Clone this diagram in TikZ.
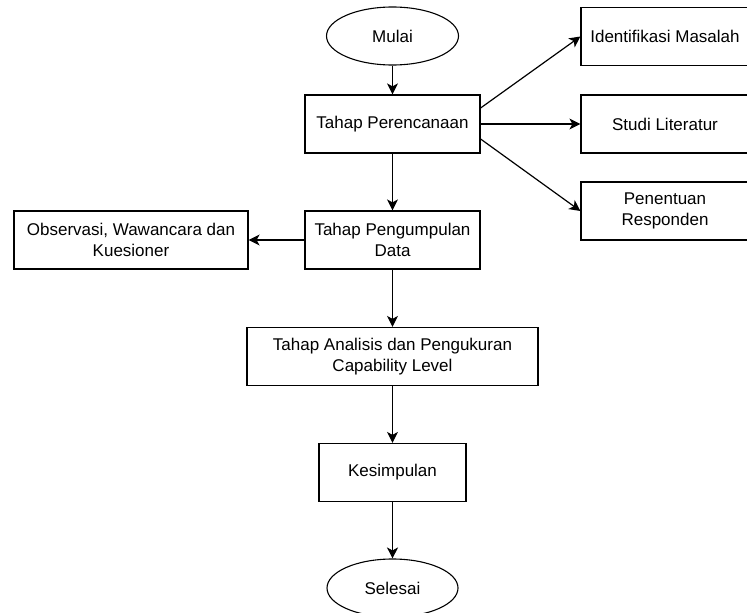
\documentclass[tikz,border=0pt]{standalone}
\usepackage{fontspec}
\setmainfont{Liberation Sans}
\usetikzlibrary{shapes.geometric,arrows.meta}
\tikzset{
  kotak/.style={draw, line width=1.2pt, minimum height=58pt, align=center, font=\fontsize{17}{20.5}\selectfont},
  oval/.style={ellipse, draw, line width=1.1pt, minimum width=132pt, minimum height=58pt, inner sep=0pt, font=\fontsize{17}{20.5}\selectfont},
}
\begin{document}
\begin{tikzpicture}[x=1pt, y=-1pt, >={Stealth[length=11pt,width=11pt,inset=3pt]}]
		\useasboundingbox (0,0) rectangle (747,613);
		\node[oval] (mulai) at (392.5,36) {Mulai};
		\node[kotak, minimum width=175pt] (rencana) at (392.5,124) {Tahap Perencanaan};
		\node[kotak, minimum width=168pt] (identifikasi) at (665,36.5) {Identifikasi Masalah};
		\node[kotak, minimum width=168pt] (studi) at (665,124) {Studi Literatur};
		\node[kotak, minimum width=168pt] (responden) at (665,211) {Penentuan\\Responden};
		\node[kotak, minimum width=175pt] (kumpul) at (392.5,240) {Tahap Pengumpulan\\Data};
		\node[kotak, minimum width=234pt] (observasi) at (131,240) {Observasi, Wawancara dan\\Kuesioner};
		\node[kotak, minimum width=291pt] (analisis) at (392.5,356.5) {Tahap Analisis dan Pengukuran\\Capability Level};
		\node[kotak, minimum width=147pt] (kesimpulan) at (392.5,472.5) {Kesimpulan};
		\node[oval, minimum width=131pt] (selesai) at (392.5,588) {Selesai};
		\draw[line width=1.2pt, ->] (mulai) -- (rencana);
		\draw[line width=1.2pt, ->] ([yshift=16pt]rencana.east) -- (identifikasi.west);
		\draw[line width=1.2pt, ->] (rencana) -- (studi);
		\draw[line width=1.2pt, ->] ([yshift=-15pt]rencana.east) -- (responden.west);
		\draw[line width=1.2pt, ->] (rencana) -- (kumpul);
		\draw[line width=1.2pt, ->] (kumpul) -- (observasi);
		\draw[line width=1.2pt, ->] (kumpul) -- (analisis);
		\draw[line width=1.2pt, ->] (analisis) -- (kesimpulan);
		\draw[line width=1.2pt, ->] (kesimpulan) -- (selesai);
		\end{tikzpicture}
\end{document}
